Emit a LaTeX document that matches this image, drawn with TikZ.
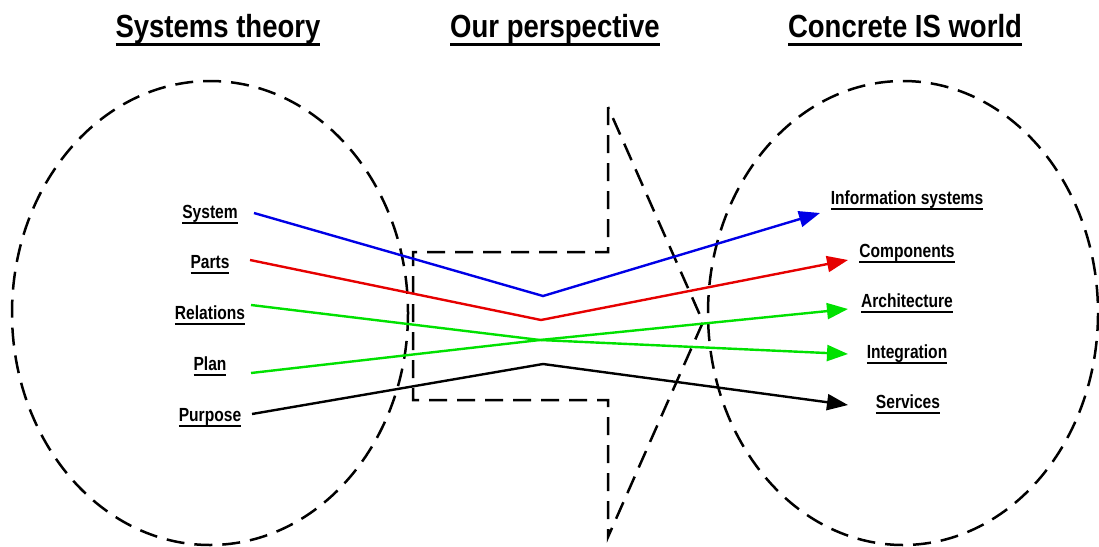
\documentclass[tikz,border=0pt]{standalone}
\usepackage{fontspec}
\setmainfont{Liberation Sans}
\newfontfamily\headfont[FakeStretch=0.86]{Liberation Sans}
\newfontfamily\tagfont[FakeStretch=0.82]{Liberation Sans}
\usetikzlibrary{arrows.meta}
\definecolor{isblue}{RGB}{0,0,230}
\definecolor{isred}{RGB}{230,0,0}
\definecolor{isgreen}{RGB}{0,225,0}
% text with a rule under it: drop, thickness, text
\newcommand{\undl}[3]{\setbox0\hbox{#3}\rlap{\rule[-#1]{\wd0}{#2}}\box0}
\tikzset{
  heading/.style={anchor=base, inner sep=0pt, font=\headfont\bfseries\fontsize{32}{34}\selectfont},
  tag/.style={anchor=base, inner sep=0pt, font=\tagfont\bfseries\fontsize{19}{21}\selectfont},
  border/.style={line width=2.5pt, dash pattern=on 18pt off 10pt},
  flow/.style={line width=2.4pt, -{Triangle[length=21pt,width=16pt]}},
  blueflow/.style={flow, draw=isblue},
  redflow/.style={flow, draw=isred},
  greenflow/.style={flow, draw=isgreen},
  blackflow/.style={flow, draw=black}
}
\begin{document}
\begin{tikzpicture}[x=1pt,y=-1pt]
  \useasboundingbox (0,0) rectangle (1099,546);

  \node[heading] (theory) at (218,37) {\undl{8.5pt}{3pt}{Systems theory}};
  \node[heading] (persp) at (555,37) {\undl{8.5pt}{3pt}{Our perspective}};
  \node[heading] (world) at (905,37) {\undl{8.5pt}{3pt}{Concrete IS world}};

  \draw[border] (210,313) ellipse [x radius=198, y radius=232];
  \draw[border] (903,313) ellipse [x radius=195, y radius=232];
  \draw[border] (608,107) -- (608,252) -- (413,252) -- (413,400) -- (608,400) -- (608,537) -- (703,322) -- cycle;

  \node[tag] (system) at (210,218) {\undl{5.5pt}{1.6pt}{System}};
  \node[tag] (parts) at (210,268) {\undl{5.5pt}{1.6pt}{Parts}};
  \node[tag] (relations) at (210,319) {\undl{5.5pt}{1.6pt}{Relations}};
  \node[tag] (plan) at (210,370) {\undl{5.5pt}{1.6pt}{Plan}};
  \node[tag] (purpose) at (210,421) {\undl{5.5pt}{1.6pt}{Purpose}};

  \node[tag] (infosys) at (907,204) {\undl{5.5pt}{1.6pt}{Information systems}};
  \node[tag] (components) at (907,257) {\undl{5.5pt}{1.6pt}{Components}};
  \node[tag] (architecture) at (907,307) {\undl{5.5pt}{1.6pt}{Architecture}};
  \node[tag] (integration) at (907,358) {\undl{5.5pt}{1.6pt}{Integration}};
  \node[tag] (services) at (908,408) {\undl{5.5pt}{1.6pt}{Services}};

  \coordinate (systemS) at (254,213);
  \coordinate (partsS) at (250,260);
  \coordinate (relationsS) at (251,305);
  \coordinate (planS) at (251,373);
  \coordinate (purposeS) at (252,414);
  \coordinate (infosysE) at (820,213);
  \coordinate (componentsE) at (848,260);
  \coordinate (architectureE) at (848,309);
  \coordinate (integrationE) at (848,354);
  \coordinate (servicesE) at (848,405);
  \coordinate (bendA) at (543,296);
  \coordinate (bendB) at (541,320);
  \coordinate (bendC) at (540,340);
  \coordinate (bendD) at (543,364);

  \draw[blueflow] (systemS) -- (bendA) -- (infosysE);
  \draw[redflow] (partsS) -- (bendB) -- (componentsE);
  \draw[greenflow] (relationsS) -- (bendC) -- (integrationE);
  \draw[greenflow] (planS) -- (bendC) -- (architectureE);
  \draw[blackflow] (purposeS) -- (bendD) -- (servicesE);
\end{tikzpicture}
\end{document}
